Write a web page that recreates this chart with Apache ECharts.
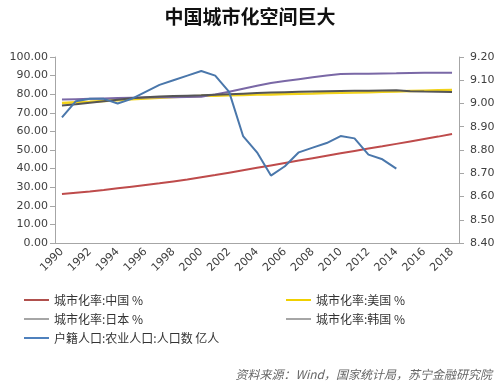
<!DOCTYPE html>
<html>
<head>
<meta charset="utf-8">
<script src="https://cdn.jsdelivr.net/npm/echarts@6/dist/echarts.min.js"></script>
<style>
html,body{margin:0;padding:0;background:#fff;}
#c{width:500px;height:386px;}
</style>
</head>
<body>
<div id="c"></div>
<script>
var years = ['1990','1991','1992','1993','1994','1995','1996','1997','1998','1999','2000','2001','2002','2003','2004','2005','2006','2007','2008','2009','2010','2011','2012','2013','2014','2015','2016','2017','2018'];
var china = [26.3,27.0,27.7,28.5,29.4,30.3,31.2,32.1,33.1,34.1,35.3,36.5,37.8,39.1,40.4,41.7,43.0,44.3,45.6,46.9,48.2,49.5,50.8,52.0,53.3,54.6,55.9,57.2,58.6];
var usa = [75.3,75.7,76.0,76.4,76.8,77.3,77.7,78.1,78.5,78.8,79.1,79.2,79.4,79.6,79.8,79.9,80.1,80.3,80.4,80.6,80.8,80.9,81.1,81.3,81.4,81.7,81.9,82.1,82.3];
var japan = [77.1,77.3,77.5,77.7,77.9,78.1,78.2,78.3,78.4,78.5,78.6,79.9,81.3,82.9,84.5,86.0,87.1,88.1,89.1,90.1,90.9,91.0,91.0,91.1,91.2,91.4,91.5,91.5,91.5];
var korea = [73.9,74.6,75.4,76.2,77.0,77.8,78.3,78.7,79.0,79.2,79.4,79.7,80.0,80.3,80.6,80.9,81.1,81.3,81.5,81.6,81.7,81.8,81.9,82.0,82.1,81.6,81.4,81.3,81.2];
var agri = [8.94,9.01,9.02,9.02,9.00,9.02,9.05,9.08,9.10,9.12,9.14,9.12,9.05,8.86,8.79,8.69,8.73,8.79,8.81,8.83,8.86,8.85,8.78,8.76,8.72,null,null,null,null];
var leftTicks = {min:0, max:100, interval:10};
var rightTicks = {min:8.4, max:9.2, interval:0.1};
var names = ['城市化率:中国 %','城市化率:美国 %','城市化率:日本 %','城市化率:韩国 %','户籍人口:农业人口:人口数 亿人'];
var title = '中国城市化空间巨大';
var source = '资料来源：Wind，国家统计局，苏宁金融研究院';

var chart = echarts.init(document.getElementById('c'), null, {renderer:'canvas'});
var axisCol = '#a6a6a6';
var labelStyle = {color:'#404040', fontFamily:'DejaVu Sans', fontSize:11};
var legendText = {color:'#333', fontFamily:'Noto Sans CJK SC', fontSize:12, lineHeight:14};
function lg(n, c){ return {name:n, itemStyle:{color:c}}; }
chart.setOption({
  animation:false,
  backgroundColor:'#fff',
  title:{text:title, left:'center', top:2, textStyle:{fontFamily:'Noto Sans CJK SC', fontSize:19, fontWeight:'bold', color:'#111'}},
  graphic:[{type:'text', right:8, top:368, style:{text:source, fontFamily:'Noto Sans CJK SC', fontSize:12, fontStyle:'italic', fill:'#666'}}],
  legend:[
    {orient:'vertical', left:24, top:293, padding:0, icon:'rect', itemWidth:25, itemHeight:2, itemGap:5, textStyle:legendText,
     data:[lg(names[0],'#b0504d'), lg(names[2],'#a6a6a6'), lg(names[4],'#4f81bd')]},
    {orient:'vertical', left:286, top:293, padding:0, icon:'rect', itemWidth:25, itemHeight:2, itemGap:5, textStyle:legendText,
     data:[lg(names[1],'#f0d000'), lg(names[3],'#a6a6a6')]}
  ],
  grid:{left:55, right:41, top:57, bottom:143, containLabel:false},
  xAxis:{type:'category', data:years, boundaryGap:true,
    axisLine:{lineStyle:{color:axisCol}},
    axisTick:{interval:1, length:5, lineStyle:{color:axisCol}},
    axisLabel:Object.assign({interval:1, rotate:45, margin:7}, labelStyle)},
  yAxis:[
    {type:'value', min:leftTicks.min, max:leftTicks.max, interval:leftTicks.interval,
     splitLine:{show:false}, axisLine:{show:true, lineStyle:{color:axisCol}},
     axisTick:{show:true, length:5, lineStyle:{color:axisCol}},
     axisLabel:Object.assign({margin:7, formatter:function(v){return v.toFixed(2);}}, labelStyle)},
    {type:'value', min:rightTicks.min, max:rightTicks.max, interval:rightTicks.interval,
     splitLine:{show:false}, axisLine:{show:true, lineStyle:{color:axisCol}},
     axisTick:{show:true, length:5, lineStyle:{color:axisCol}},
     axisLabel:Object.assign({margin:11, formatter:function(v){return v.toFixed(2);}}, labelStyle)}
  ],
  series:[
    {name:names[0], type:'line', data:china, symbol:'none', color:'#be4b4b', lineStyle:{width:2}},
    {name:names[1], type:'line', data:usa, symbol:'none', color:'#f2d31a', lineStyle:{width:2.5}},
    {name:names[2], type:'line', data:japan, symbol:'none', color:'#7a68a6', lineStyle:{width:2}},
    {name:names[3], type:'line', data:korea, symbol:'none', color:'#555555', lineStyle:{width:2}},
    {name:names[4], type:'line', yAxisIndex:1, data:agri, symbol:'none', color:'#4a77ab', lineStyle:{width:2}}
  ]
});
</script>
</body>
</html>
